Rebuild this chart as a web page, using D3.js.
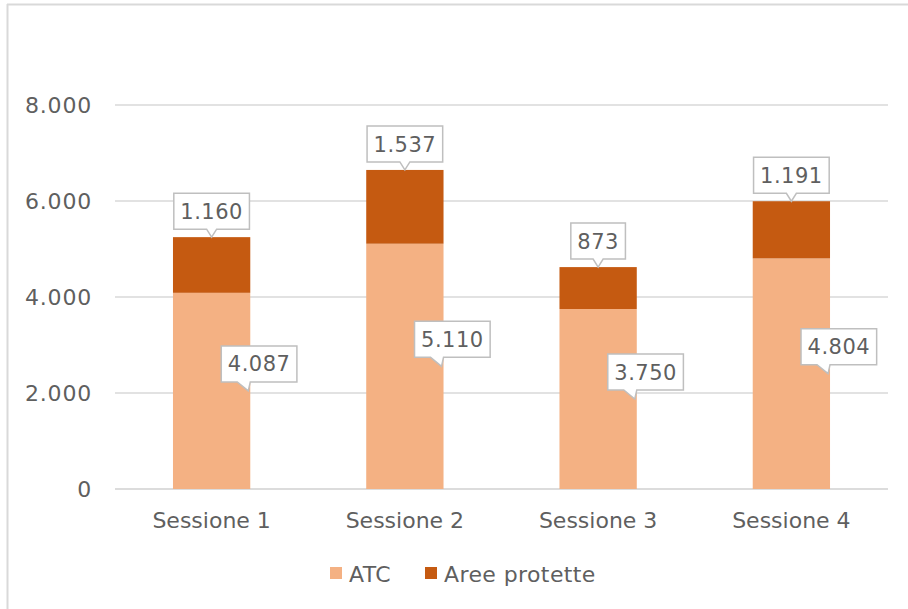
<!DOCTYPE html>
<html>
<head>
<meta charset="utf-8">
<script src="https://cdn.jsdelivr.net/npm/d3@7"></script>
<style>
  body { margin: 0; background: #fff; }
  text { font-family: 'DejaVu Sans', sans-serif; fill: #5f5f5f; }
</style>
</head>
<body>
<svg id="canvas"></svg>
<script>
// chart values
const sessions = ['Sessione 1', 'Sessione 2', 'Sessione 3', 'Sessione 4']
const atc = [4087, 5110, 3750, 4804]
const areeProtette = [1160, 1537, 873, 1191]
const yTicks = [0, 2000, 4000, 6000, 8000]
const seriesNames = ['ATC', 'Aree protette']
const colors = ['#F4B183', '#C55A11']

const width = 908, height = 609
const margin = { top: 105, right: 20, bottom: 120, left: 115 }
const svg = d3.select('#canvas').attr('width', width).attr('height', height)

const it = d3.formatLocale({ decimal: ',', thousands: '.', grouping: [3], currency: ['€', ''] })
const fmt = it.format(',d')

// frame (top + left edges visible)
svg.append('line').attr('x1', 7).attr('x2', width).attr('y1', 4.5).attr('y2', 4.5)
    .attr('stroke', '#d9d9d9').attr('stroke-width', 2)
svg.append('line').attr('x1', 7.5).attr('x2', 7.5).attr('y1', 4).attr('y2', height)
    .attr('stroke', '#d9d9d9').attr('stroke-width', 2)

const x = d3.scaleBand().domain(sessions).range([margin.left, 888]).paddingInner(0.6).paddingOuter(0.3)
const y = d3.scaleLinear().domain([0, 8000]).range([489, 105])

// gridlines
svg.append('g').selectAll('line')
    .data(yTicks)
    .enter()
    .append('line')
        .attr('x1', margin.left).attr('x2', 888)
        .attr('y1', d => y(d)).attr('y2', d => y(d))
        .attr('stroke', d => d === 0 ? '#d0d0d0' : '#d9d9d9')
        .attr('stroke-width', 1.5)

// y tick labels
svg.append('g').selectAll('text')
    .data(yTicks)
    .enter()
    .append('text')
        .attr('x', 92).attr('y', d => y(d)).attr('dy', '0.36em')
        .attr('text-anchor', 'end').attr('font-size', 22).attr('letter-spacing', 0.8)
        .text(d => fmt(d))

// stacked bars
const rows = sessions.map((s, i) => ({ session: s, ATC: atc[i], 'Aree protette': areeProtette[i] }))
const stacked = d3.stack().keys(seriesNames)(rows)

svg.append('g').selectAll('g')
    .data(stacked)
    .enter()
    .append('g')
        .attr('fill', (d, i) => colors[i])
        .selectAll('rect')
        .data(d => d)
        .enter()
        .append('rect')
            .attr('x', d => x(d.data.session))
            .attr('width', x.bandwidth())
            .attr('y', d => y(d[1]))
            .attr('height', d => y(d[0]) - y(d[1]))

// x labels
svg.append('g').selectAll('text')
    .data(sessions)
    .enter()
    .append('text')
        .attr('x', d => x(d) + x.bandwidth() / 2).attr('y', 528)
        .attr('text-anchor', 'middle').attr('font-size', 22)
        .text(d => d)

// callout labels: tip point, box placed relative to tip
const callout = (tipX, tipY, label, mode) => {
    const g = svg.append('g')
    const t = g.append('text').attr('font-size', 21).attr('letter-spacing', 0.5).text(label)
    const bb = t.node().getBBox()
    const w = bb.width + 13, h = 36
    let bx, by, base
    if (mode === 'top') {
        bx = tipX - w / 2; by = tipY - 8 - h
        base = [tipX - 5, tipX + 5]
    } else {
        bx = tipX - 27; by = tipY - 9 - h
        base = [tipX - 11, tipX + 2]
    }
    const bottom = by + h
    const path = `M${bx},${by}H${bx + w}V${bottom}H${base[1]}L${tipX},${tipY}L${base[0]},${bottom}H${bx}Z`
    g.insert('path', 'text').attr('d', path).attr('fill', '#fff')
        .attr('stroke', '#bfbfbf').attr('stroke-width', 1.5)
    t.attr('x', bx + w / 2).attr('y', by + h / 2).attr('dy', '0.36em').attr('text-anchor', 'middle')
}

stacked[0].forEach(d => {
    callout(x(d.data.session) + x.bandwidth() - 2, y((d[0] + d[1]) / 2), fmt(d[1] - d[0]), 'inside')
})
stacked[1].forEach(d => {
    callout(x(d.data.session) + x.bandwidth() / 2, y(d[1]), fmt(d[1] - d[0]), 'top')
})

// legend
const legend = svg.append('g')
const legendX = [330, 425]
seriesNames.forEach((name, i) => {
    legend.append('rect').attr('x', legendX[i]).attr('y', 567).attr('width', 12).attr('height', 12)
        .attr('fill', colors[i])
    legend.append('text').attr('x', legendX[i] + 19).attr('y', 574).attr('dy', '0.36em')
        .attr('font-size', 22).attr('letter-spacing', 0.4).text(name)
})
</script>
</body>
</html>
